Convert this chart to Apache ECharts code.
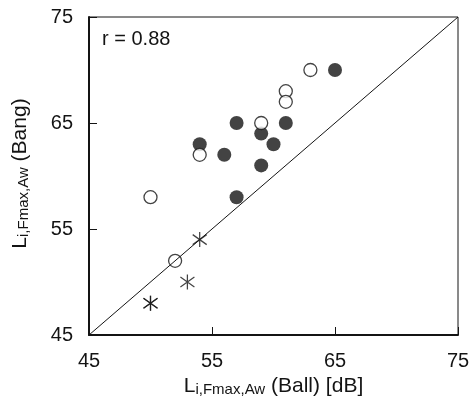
<!DOCTYPE html>
<html>
<head>
<meta charset="utf-8">
<script src="https://cdn.jsdelivr.net/npm/echarts@6/dist/echarts.min.js"></script>
<style>
  html, body { margin: 0; padding: 0; background: #fff; }
  #chart { width: 471px; height: 408px; }
</style>
</head>
<body>
<div id="chart"></div>
<script>
// Impact sound level: ball drop vs. bang machine (dB)
const tickValues = [45, 55, 65, 75];

// Filled circles
const filledBall = [65, 57, 61, 59, 54, 60, 56, 59, 57];
const filledBang = [70, 65, 65, 64, 63, 63, 62, 61, 58];

// Open circles
const openBall = [63, 61, 61, 59, 54, 50, 52];
const openBang = [70, 68, 67, 65, 62, 58, 52];

// Asterisks
const starBall = [54, 53, 50, 50];
const starBang = [54, 50, 48, 48];

// Line of equality
const equalityLine = [45, 75];

const correlationText = 'r = 0.88';

const FONT = '"Liberation Sans", Arial, Helvetica, sans-serif';
const INK = '#141414';

const pairs = (xs, ys) => xs.map((x, i) => [x, ys[i]]);

const nameRich = {
  m: { fontSize: 21, lineHeight: 21, verticalAlign: 'bottom', fontFamily: FONT, color: INK },
  s: { fontSize: 15, lineHeight: 15, verticalAlign: 'bottom', fontFamily: FONT, color: INK }
};

const axisCommon = {
  type: 'value',
  min: tickValues[0],
  max: tickValues[tickValues.length - 1],
  interval: tickValues[1] - tickValues[0],
  nameLocation: 'middle',
  splitLine: { show: false },
  axisLine: { show: true, lineStyle: { color: INK, width: 2 } },
  axisTick: { show: true, inside: true, length: 8, lineStyle: { color: INK, width: 1 } },
  axisLabel: { fontSize: 20, fontFamily: FONT, color: INK, showMinLabel: true, showMaxLabel: true }
};

const asterisk = 'path://M7,0 L7,15 M0,2.5 L14,12.5 M0,12.5 L14,2.5';

const chart = echarts.init(document.getElementById('chart'), null, { renderer: 'canvas' });

chart.setOption({
  animation: false,
  backgroundColor: '#fff',
  grid: {
    left: 89, right: 13, top: 17, bottom: 73,
    show: true, borderColor: INK, borderWidth: 1,
    outerBoundsMode: 'none'
  },
  xAxis: Object.assign({}, axisCommon, {
    name: '{m|L}{s|i,Fmax,Aw}{m| (Ball) [dB]}',
    nameGap: 39,
    nameTextStyle: { rich: nameRich },
    axisLabel: Object.assign({}, axisCommon.axisLabel, { margin: 16 })
  }),
  yAxis: Object.assign({}, axisCommon, {
    name: '{m|L}{s|i,Fmax,Aw}{m| (Bang)}',
    nameGap: 58,
    nameTextStyle: { rich: nameRich, padding: [0, 0, 0, 5] },
    axisLabel: Object.assign({}, axisCommon.axisLabel, { margin: 16 })
  }),
  graphic: [{
    type: 'text',
    left: 102,
    top: 29,
    style: { text: correlationText, font: '20px ' + FONT, fill: INK }
  }],
  series: [
    {
      type: 'scatter',
      name: 'filled',
      data: pairs(filledBall, filledBang),
      symbol: 'circle',
      symbolSize: 14,
      itemStyle: { color: INK },
      emphasis: { disabled: true },
      z: 2
    },
    {
      type: 'scatter',
      name: 'open',
      data: pairs(openBall, openBang),
      symbol: 'circle',
      symbolSize: 13,
      itemStyle: { color: '#fff', borderColor: INK, borderWidth: 1.3 },
      emphasis: { disabled: true },
      z: 3
    },
    {
      type: 'scatter',
      name: 'asterisk',
      data: pairs(starBall, starBang),
      symbol: asterisk,
      symbolSize: [14, 15],
      itemStyle: { color: 'rgba(0,0,0,0)', borderColor: INK, borderWidth: 1.3 },
      emphasis: { disabled: true },
      z: 4
    },
    {
      type: 'line',
      name: 'equality',
      data: pairs(equalityLine, equalityLine),
      symbol: 'none',
      lineStyle: { color: INK, width: 1 },
      silent: true,
      z: 5
    }
  ]
});
</script>
</body>
</html>
